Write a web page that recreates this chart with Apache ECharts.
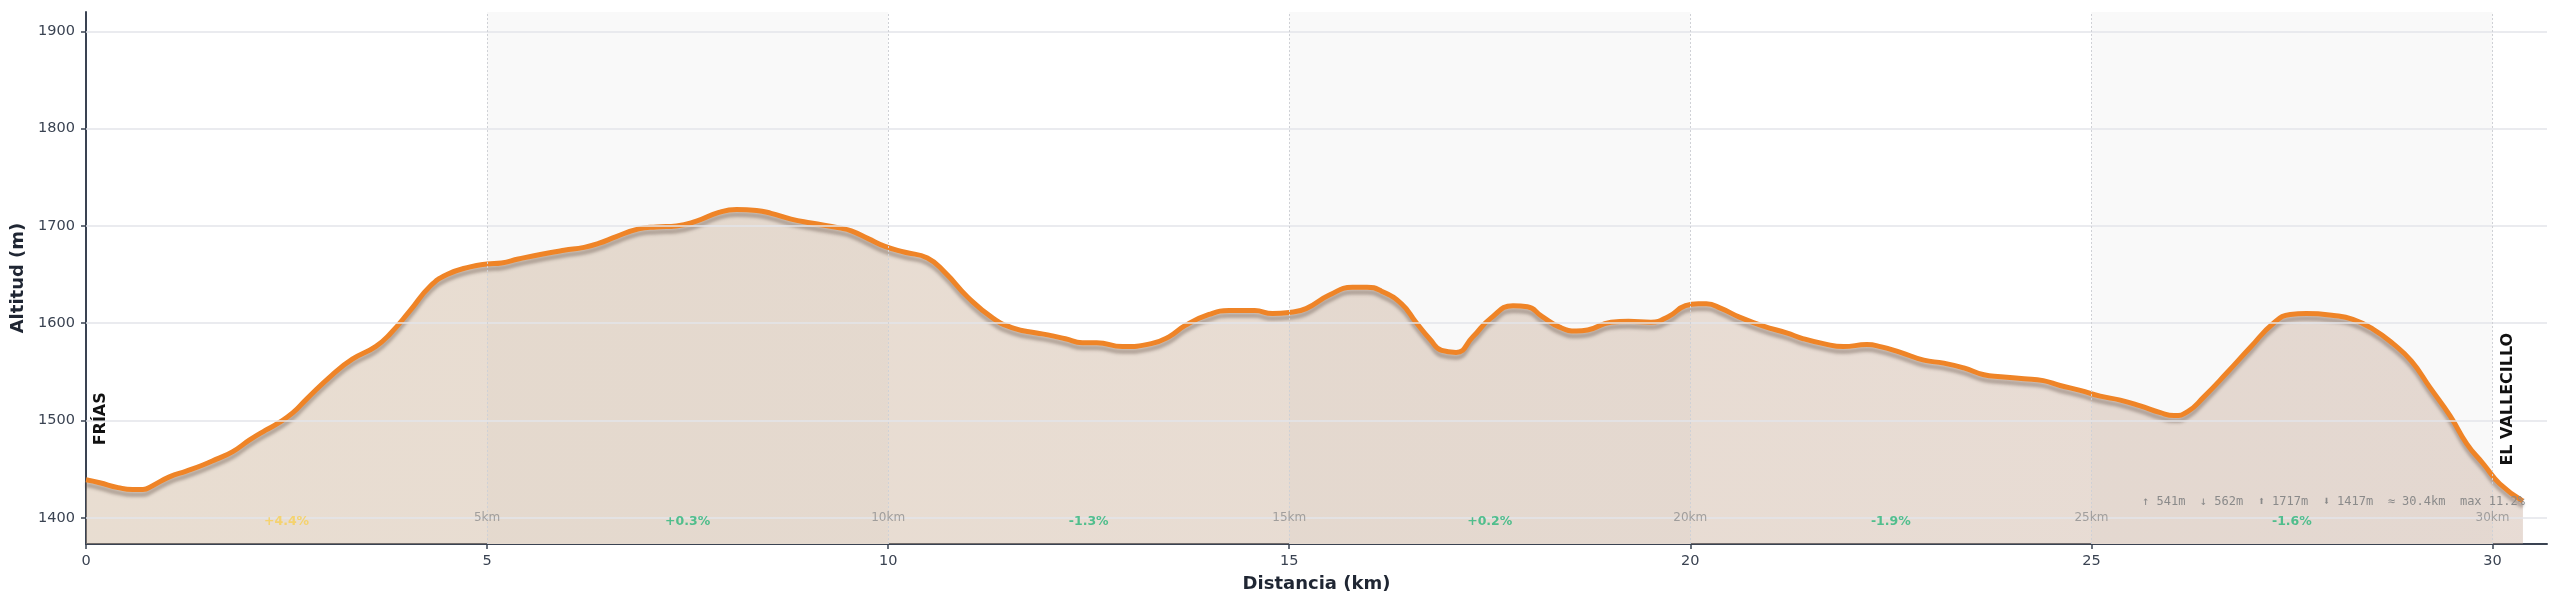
<!DOCTYPE html>
<html>
<head>
<meta charset="utf-8">
<script src="https://cdn.jsdelivr.net/npm/echarts@6/dist/echarts.min.js"></script>
<style>
html,body{margin:0;padding:0;background:#fff;}
#chart{width:2560px;height:608px;}
</style>
</head>
<body>
<div id="chart"></div>
<script>
// ---- DATA ----
const distKm = [0.00,0.17,0.40,0.58,0.71,0.83,1.04,1.25,1.45,1.62,1.83,2.04,2.24,2.39,2.58,2.75,3.07,3.32,3.61,3.79,4.04,4.29,4.50,4.79,5.00,5.18,5.39,5.68,5.96,6.21,6.39,6.61,6.89,7.11,7.36,7.61,7.89,8.11,8.36,8.54,8.79,9.04,9.39,9.54,9.75,9.96,10.21,10.49,10.71,10.99,11.31,11.56,11.85,11.99,12.21,12.42,12.60,12.92,13.28,13.50,13.71,14.00,14.25,14.57,14.79,15.00,15.21,15.50,15.79,15.97,16.15,16.40,16.58,16.76,16.90,17.08,17.29,17.51,17.79,17.97,18.15,18.37,18.58,18.72,19.01,19.23,19.51,19.73,19.94,20.10,20.20,20.39,20.62,20.91,21.20,21.41,21.66,21.91,22.20,22.37,22.62,22.91,23.16,23.41,23.66,23.87,24.16,24.40,24.61,24.86,25.11,25.36,25.61,25.86,26.03,26.20,26.40,26.69,26.98,27.27,27.48,27.68,28.02,28.26,28.51,28.76,28.99,29.22,29.47,29.68,29.89,30.09,30.38];
const elevationM = [1439,1436,1431,1429,1429,1433,1442,1448,1454,1460,1468,1480,1490,1497,1508,1522,1547,1563,1576,1589,1613,1638,1650,1658,1661,1662,1666,1671,1675,1678,1682,1689,1697,1699,1700,1705,1714,1717,1716,1713,1707,1703,1698,1695,1687,1679,1673,1667,1652,1627,1605,1595,1590,1588,1584,1580,1580,1576,1579,1586,1598,1609,1613,1613,1610,1611,1615,1629,1637,1637,1633,1620,1601,1583,1572,1570,1586,1605,1618,1617,1607,1596,1592,1593,1601,1602,1601,1607,1618,1620,1620,1615,1606,1597,1590,1584,1579,1576,1578,1576,1570,1562,1559,1554,1547,1545,1543,1541,1536,1531,1525,1521,1515,1508,1505,1509,1524,1549,1575,1600,1609,1610,1608,1604,1594,1579,1561,1534,1505,1476,1455,1435,1417];

const yTicks = [1400,1500,1600,1700,1800,1900];
const xTicks = [0,5,10,15,20,25,30];
const kmMarkKm = [5,10,15,20,25,30];
const kmMarkText = ['5km','10km','15km','20km','25km','30km'];
const bandStarts = [5,15,25];
const bandEnds = [10,20,30];
const slopeKm = [2.5,7.5,12.5,17.5,22.5,27.5];
const slopeText = ['+4.4%','+0.3%','-1.3%','+0.2%','-1.9%','-1.6%'];
const waypointNames = ['FRÍAS','EL VALLECILLO'];
const waypointKm = [0, 30.38];
const waypointEle = [1439, 1417];
const statsText = '↑ 541m  ↓ 562m  ⬆ 1717m  ⬇ 1417m  ≈ 30.4km  max 11.2%';
const yName = 'Altitud (m)';
const xName = 'Distancia (km)';

// ---- CHART ----
const FONT = '"DejaVu Sans", sans-serif';
const chart = echarts.init(document.getElementById('chart'), null, {renderer: 'canvas'});
const profile = distKm.map((d, i) => [d, elevationM[i]]);

const slopeColor = t => t === '+4.4%' ? '#f7cf55' : '#2bb77b';

chart.setOption({
  animation: false,
  backgroundColor: '#ffffff',
  grid: {left: 86, right: 13, top: 12, bottom: 64, containLabel: false},
  xAxis: {
    type: 'value', min: 0, max: 30.68,
    name: xName, nameLocation: 'middle', nameGap: 31,
    nameTextStyle: {fontFamily: FONT, fontSize: 18, fontWeight: 'bold', color: '#1f2633'},
    axisLine: {show: true, lineStyle: {color: '#3a4352', width: 2}},
    axisTick: {show: true, length: 5, lineStyle: {color: '#3a4352', width: 1.5}, customValues: xTicks},
    axisLabel: {fontFamily: FONT, fontSize: 14.5, color: '#3a4352', margin: 10, customValues: xTicks,
      formatter: v => String(v)},
    splitLine: {show: false}
  },
  yAxis: {
    type: 'value', min: 1373, max: 1920,
    name: yName, nameLocation: 'middle', nameGap: 55, nameRotate: 90,
    nameTextStyle: {fontFamily: FONT, fontSize: 18, fontWeight: 'bold', color: '#1f2633'},
    axisLine: {show: true, lineStyle: {color: '#3a4352', width: 2}},
    axisTick: {show: true, length: 5, lineStyle: {color: '#3a4352', width: 1.5}, customValues: yTicks},
    axisLabel: {fontFamily: FONT, fontSize: 14.5, color: '#3a4352', margin: 11, customValues: yTicks,
      formatter: v => String(v)},
    splitLine: {show: false}
  },
  series: [
    {
      type: 'line', data: profile, z: 1, silent: true, symbol: 'none',
      lineStyle: {opacity: 0},
      markArea: {
        silent: true,
        itemStyle: {color: '#f9f9f9', opacity: 1},
        data: bandStarts.map((s, i) => [{xAxis: s}, {xAxis: bandEnds[i]}])
      },
      markLine: {
        silent: true, symbol: 'none', label: {show: false},
        data: yTicks.map(v => ({yAxis: v, lineStyle: {color: '#e3e5ea', width: 1.5, type: 'solid'}}))
          .concat(kmMarkKm.map(v => ({xAxis: v, lineStyle: {color: '#cfd1d6', width: 1, type: [2, 2]}})))
      }
    },
    {
      type: 'line', data: profile, z: 3, smooth: 0.5, symbol: 'none', silent: true,
      lineStyle: {color: '#ef8427', width: 5, shadowColor: 'rgba(95,75,65,0.38)', shadowBlur: 3, shadowOffsetY: 5},
      areaStyle: {
        origin: 'start', opacity: 1,
        color: new echarts.graphic.LinearGradient(0, 0, 1, 0, [
          {offset: 0, color: 'rgba(198,170,140,0.40)'},
          {offset: 1, color: 'rgba(196,166,148,0.40)'}
        ])
      }
    },
    {
      type: 'scatter', z: 5, silent: true, symbolSize: 1,
      itemStyle: {color: 'rgba(0,0,0,0)'},
      data: kmMarkKm.map((k, i) => ({value: [k, 1400], name: kmMarkText[i]})),
      label: {show: true, position: 'inside', formatter: p => p.name,
        fontFamily: FONT, fontSize: 12, color: '#8f8f8f'}
    },
    {
      type: 'scatter', z: 5, silent: true, symbolSize: 1,
      itemStyle: {color: 'rgba(0,0,0,0)'},
      data: slopeKm.map((k, i) => ({value: [k, 1395.5], name: slopeText[i],
        label: {color: slopeColor(slopeText[i])}})),
      label: {show: true, position: 'inside', formatter: p => p.name,
        fontFamily: FONT, fontSize: 12.5, fontWeight: 'bold'}
    }
  ]
});

const pStart = chart.convertToPixel({gridIndex: 0}, [waypointKm[0], waypointEle[0]]);
const pEnd = chart.convertToPixel({gridIndex: 0}, [waypointKm[1], waypointEle[1]]);
chart.setOption({
  graphic: [
    {type: 'text', x: pStart[0] + 15, y: pStart[1] - 61, rotation: Math.PI / 2, z: 100,
      style: {text: waypointNames[0], font: 'bold 16px ' + FONT, fill: '#111', align: 'center', verticalAlign: 'middle'}},
    {type: 'text', x: pEnd[0] - 15, y: pEnd[1] - 102, rotation: Math.PI / 2, z: 100,
      style: {text: waypointNames[1], font: 'bold 16px ' + FONT, fill: '#111', align: 'center', verticalAlign: 'middle'}},
    {type: 'text', x: pEnd[0] + 2, y: pEnd[1] + 1, z: 100,
      style: {text: statsText, font: '12px "DejaVu Sans Mono", monospace', fill: '#8a8a8a', align: 'right', verticalAlign: 'middle'}}
  ]
});
</script>
</body>
</html>
